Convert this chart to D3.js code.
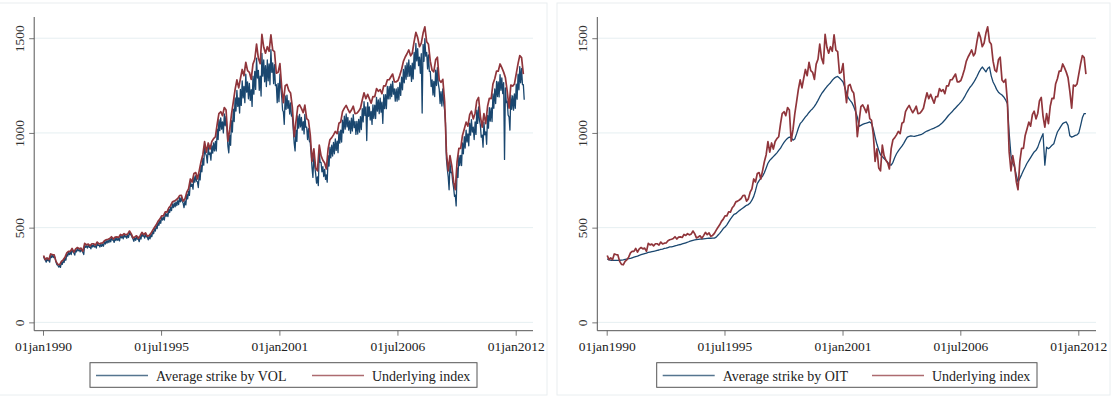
<!DOCTYPE html>
<html>
<head>
<meta charset="utf-8">
<script src="https://cdn.jsdelivr.net/npm/d3@7"></script>
<style>
  body { margin: 0; background: #fff; }
  svg { display: block; font-family: "Liberation Serif", "Times New Roman", serif; }
</style>
</head>
<body>
<svg id="chart" width="1114" height="397"></svg>
<script>
// monthly samples, Jan 1990 .. May 2012
const firstMonth = new Date(1990, 0, 10);

const indexValues = [
  353, 331, 340, 331, 361, 358, 356, 322, 306, 304, 322, 330,
  344, 367, 375, 375, 390, 371, 388, 395, 388, 392, 375, 417,
  409, 413, 404, 415, 415, 408, 424, 414, 418, 419, 431, 436,
  439, 443, 452, 440, 450, 451, 448, 464, 459, 468, 462, 466,
  482, 467, 446, 451, 457, 444, 458, 475, 463, 472, 454, 459,
  470, 487, 501, 515, 533, 545, 562, 562, 584, 582, 605, 616,
  636, 640, 646, 654, 669, 671, 640, 652, 687, 705, 757, 741,
  786, 791, 757, 801, 848, 885, 954, 899, 947, 915, 955, 970,
  980, 1049, 1102, 1112, 1091, 1134, 1121, 957, 1017, 1099, 1164, 1229,
  1280, 1238, 1286, 1335, 1302, 1373, 1329, 1320, 1283, 1363, 1389, 1469,
  1394, 1366, 1520, 1452, 1421, 1455, 1431, 1518, 1437, 1429, 1315, 1320,
  1366, 1240, 1160, 1249, 1256, 1224, 1211, 1134, 980, 1060, 1139, 1148,
  1130, 1107, 1147, 1076, 1067, 990, 850, 916, 815, 800, 936, 880,
  856, 841, 810, 917, 964, 975, 990, 1008, 996, 1051, 1058, 1112,
  1131, 1145, 1126, 1107, 1121, 1141, 1102, 1104, 1115, 1130, 1174, 1212,
  1181, 1204, 1181, 1157, 1192, 1191, 1234, 1220, 1229, 1207, 1249, 1248,
  1280, 1281, 1295, 1311, 1270, 1270, 1277, 1304, 1336, 1378, 1401, 1418,
  1438, 1407, 1421, 1482, 1531, 1503, 1455, 1474, 1527, 1560, 1481, 1468,
  1379, 1331, 1323, 1386, 1400, 1280, 1267, 1283, 1166, 900, 800, 880,
  826, 740, 700, 850, 919, 919, 987, 1021, 1057, 1036, 1096, 1115,
  1074, 1104, 1169, 1187, 1089, 1031, 1102, 1049, 1141, 1183, 1181, 1258,
  1286, 1327, 1326, 1364, 1345, 1321, 1292, 1219, 1131, 1253, 1247, 1258,
  1312, 1366, 1408, 1398, 1310
];

// VOL strike is very noisy: monthly high and low of the band
const volHigh = [
  348, 328, 336, 328, 356, 354, 352, 318, 302, 300, 318, 326,
  340, 362, 370, 370, 385, 366, 383, 390, 383, 387, 370, 410,
  404, 408, 399, 410, 410, 403, 419, 409, 413, 414, 426, 431,
  434, 438, 447, 435, 445, 446, 443, 459, 454, 463, 457, 461,
  476, 462, 441, 446, 452, 439, 453, 469, 458, 466, 449, 454,
  464, 481, 495, 509, 527, 538, 555, 555, 576, 574, 597, 607,
  626, 630, 636, 643, 658, 660, 630, 641, 675, 693, 743, 728,
  770, 775, 742, 784, 830, 866, 932, 880, 926, 895, 933, 948,
  955, 1020, 1070, 1080, 1058, 1100, 1087, 930, 988, 1065, 1125, 1185,
  1225, 1185, 1230, 1275, 1245, 1310, 1270, 1262, 1228, 1300, 1325, 1395,
  1330, 1300, 1420, 1385, 1355, 1385, 1365, 1440, 1370, 1360, 1255, 1262,
  1310, 1190, 1112, 1195, 1200, 1170, 1158, 1085, 945, 1015, 1090, 1098,
  1082, 1060, 1098, 1030, 1022, 948, 815, 878, 782, 768, 898, 845,
  822, 808, 778, 880, 925, 935, 950, 968, 956, 1008, 1015, 1067,
  1088, 1100, 1082, 1064, 1078, 1097, 1060, 1061, 1072, 1086, 1128, 1165,
  1138, 1160, 1138, 1114, 1148, 1147, 1188, 1175, 1183, 1162, 1202, 1202,
  1245, 1245, 1258, 1272, 1232, 1232, 1240, 1265, 1295, 1335, 1355, 1370,
  1385, 1355, 1368, 1425, 1472, 1445, 1400, 1418, 1468, 1498, 1425, 1412,
  1325, 1280, 1272, 1332, 1345, 1230, 1218, 1233, 1120, 865, 768, 845,
  792, 710, 672, 815, 882, 882, 948, 980, 1015, 995, 1052, 1070,
  1030, 1058, 1120, 1138, 1043, 988, 1056, 1005, 1093, 1134, 1132, 1206,
  1232, 1272, 1270, 1308, 1290, 1266, 1238, 1168, 1084, 1200, 1195, 1206,
  1258, 1310, 1350, 1340, 1255
];

const volLow = [
  335, 318, 326, 318, 342, 342, 340, 305, 292, 290, 306, 316,
  328, 350, 358, 358, 372, 355, 372, 378, 372, 376, 358, 396,
  392, 396, 388, 398, 398, 392, 406, 398, 401, 402, 413, 418,
  421, 425, 434, 422, 432, 433, 430, 446, 441, 450, 444, 448,
  462, 448, 428, 433, 439, 426, 440, 455, 445, 452, 436, 441,
  452, 468, 482, 495, 512, 523, 540, 540, 560, 558, 580, 590,
  606, 610, 616, 622, 636, 638, 606, 620, 652, 670, 718, 703,
  740, 745, 712, 752, 795, 830, 893, 842, 886, 856, 893, 905,
  905, 965, 1012, 1020, 1000, 1038, 1025, 895, 935, 1005, 1060, 1115,
  1140, 1105, 1145, 1185, 1160, 1215, 1180, 1172, 1140, 1205, 1230, 1290,
  1225, 1195, 1300, 1270, 1245, 1275, 1255, 1320, 1260, 1250, 1160, 1165,
  1240, 1120, 1045, 1125, 1130, 1100, 1090, 1020, 905, 955, 1025, 1032,
  1015, 995, 1030, 965, 958, 888, 765, 825, 735, 722, 845, 795,
  770, 755, 740, 825, 868, 878, 890, 908, 896, 946, 952, 1000,
  1020, 1032, 1015, 998, 1010, 1028, 992, 994, 1004, 1018, 1058, 1092,
  960, 1088, 1068, 1045, 1077, 1076, 1115, 1102, 1110, 1050, 1128, 1128,
  1180, 1180, 1192, 1205, 1168, 1168, 1175, 1198, 1228, 1265, 1283, 1298,
  1300, 1272, 1285, 1338, 1380, 1355, 1315, 1105, 1378, 1405, 1338, 1325,
  1245, 1200, 1192, 1250, 1262, 1155, 1142, 1156, 1050, 810, 700, 790,
  742, 665, 615, 765, 828, 828, 890, 920, 952, 932, 988, 1005,
  965, 992, 1050, 1066, 978, 925, 990, 940, 1025, 1062, 1060, 1130,
  1155, 1192, 1190, 1225, 1208, 860, 1160, 1095, 1015, 1125, 1120, 1130,
  1178, 1228, 1265, 1255, 1175
];

const oitValues = [
  335, 330, 328, 327, 327, 327, 327, 328, 329, 330, 332, 334,
  336, 338, 341, 344, 347, 350, 354, 357, 360, 363, 366, 369,
  371, 373, 375, 377, 380, 382, 385, 387, 390, 392, 395, 398,
  398, 401, 404, 406, 409, 411, 414, 417, 420, 423, 427, 430,
  433, 435, 437, 438, 439, 440, 441, 442, 443, 444, 444, 445,
  445, 450, 460, 470, 482, 495, 503, 515, 530, 545, 558, 570,
  574, 582, 590, 597, 604, 611, 618, 622, 630, 645, 665, 695,
  732, 748, 760, 772, 790, 815, 840, 855, 865, 875, 885, 895,
  908, 920, 935, 950, 962, 972, 978, 975, 962, 968, 995, 1025,
  1049, 1060, 1072, 1085, 1095, 1108, 1119, 1128, 1140, 1155, 1172, 1190,
  1207, 1220, 1232, 1245, 1255, 1265, 1278, 1288, 1295, 1298, 1290, 1280,
  1269, 1240, 1210, 1185, 1172, 1160, 1140, 1115, 1085, 1035, 1040, 1045,
  1049, 1052, 1055, 1058, 1050, 1020, 978, 940, 910, 885, 875, 865,
  855, 845, 832, 830, 845, 870, 890, 905, 918, 930, 945, 962,
  978, 982, 985, 983, 982, 985, 987, 990, 993, 998, 1005, 1010,
  1014, 1018, 1022, 1025, 1030, 1035, 1040, 1048, 1058, 1068, 1080, 1092,
  1102, 1112, 1122, 1132, 1142, 1152, 1163, 1175, 1190, 1208, 1225, 1240,
  1251, 1265, 1280, 1298, 1318, 1335, 1348, 1335, 1322, 1340, 1348, 1300,
  1269, 1250, 1230, 1215, 1207, 1200, 1190, 1175, 1154, 1000, 880, 840,
  820, 775, 741, 760, 780, 802, 820, 840, 855, 870, 885, 900,
  908, 925, 950, 975, 996, 830, 925, 917, 925, 935, 943, 975,
  1005, 1020, 1035, 1049, 1055, 1058, 1040, 985, 978, 982, 987, 990,
  1000, 1040, 1080, 1102, 1102
];

const tickDates = ["1990-01-01", "1995-07-01", "2001-01-01", "2006-07-01", "2012-01-01"];
const yTicks = [0, 500, 1000, 1500];
const strikeLabels = ["Average strike by VOL", "Average strike by OIT"];
const indexLabel = "Underlying index";

const BLUE = "#1a476f";
const RED = "#90353b";

const svg = d3.select("#chart");
const parseDay = d3.timeParse("%Y-%m-%d");
const fmtDay = d3.timeFormat("%d%b%Y");
const monthDate = i => d3.timeMonth.offset(firstMonth, i);

const indexSeries = indexValues.map((v, i) => ({ date: monthDate(i), value: v }));
const oitSeries = oitValues.map((v, i) => ({ date: monthDate(i), value: v }));
// zigzag high -> low inside each month, gives the dense band of the daily series
const volSeries = [];
volHigh.forEach((h, i) => {
    volSeries.push({ date: monthDate(i), value: h });
    volSeries.push({ date: d3.timeDay.offset(monthDate(i), 15), value: volLow[i] });
});

function drawPanel(cfg) {
    const g = svg.append("g");

    g.append("rect")
        .attr("x", cfg.frame[0]).attr("y", cfg.frame[1])
        .attr("width", cfg.frame[2] - cfg.frame[0]).attr("height", cfg.frame[3] - cfg.frame[1])
        .attr("fill", "none").attr("stroke", "#e9eef0");

    const x = d3.scaleTime()
        .domain([new Date(1990, 0, 1), new Date(2012, 0, 1)])
        .range([cfg.x0, cfg.x1]);
    const y = d3.scaleLinear().domain([-44, 1612]).range([330.7, 17]);

    g.selectAll(".grid").data(yTicks).join("line")
        .attr("class", "grid")
        .attr("x1", cfg.left).attr("x2", cfg.right)
        .attr("y1", d => y(d)).attr("y2", d => y(d))
        .attr("stroke", "#e6eff1").attr("stroke-width", 1);

    const line = d3.line().x(d => x(d.date)).y(d => y(d.value));

    g.append("path").datum(cfg.strike)
        .attr("d", line).attr("fill", "none")
        .attr("stroke", BLUE).attr("stroke-width", cfg.strikeWidth)
        .attr("stroke-linejoin", "round");
    g.append("path").datum(indexSeries)
        .attr("d", line).attr("fill", "none")
        .attr("stroke", RED).attr("stroke-width", 1.7)
        .attr("stroke-linejoin", "round");

    // y axis
    const yAxis = g.append("g")
        .attr("transform", `translate(${cfg.left},0)`)
        .call(d3.axisLeft(y).tickValues(yTicks).tickFormat(d3.format("d")).tickSize(5).tickSizeOuter(0));
    yAxis.select(".domain").remove();
    yAxis.selectAll("line").attr("stroke", "#777");
    yAxis.selectAll("text")
        .attr("x", null).attr("dy", null)
        .attr("transform", "translate(-10,0) rotate(-90)")
        .attr("text-anchor", "middle")
        .attr("fill", "#333")
        .style("font-family", "Liberation Serif")
        .style("font-size", "13.5px");
    g.append("line")
        .attr("x1", cfg.left).attr("x2", cfg.left)
        .attr("y1", 17).attr("y2", 330.7)
        .attr("stroke", "#555");

    // x axis
    const xAxis = g.append("g")
        .attr("transform", "translate(0,330.7)")
        .call(d3.axisBottom(x)
            .tickValues(tickDates.map(parseDay))
            .tickSize(5)
            .tickPadding(6)
            .tickFormat(d => fmtDay(d).toLowerCase()));
    xAxis.select(".domain").remove();
    xAxis.selectAll("line").attr("stroke", "#777");
    xAxis.selectAll("text")
        .attr("fill", "#222")
        .style("font-family", "Liberation Serif")
        .style("font-size", "13.5px");
    g.append("line")
        .attr("x1", cfg.left).attr("x2", cfg.right)
        .attr("y1", 330.7).attr("y2", 330.7)
        .attr("stroke", "#555");

    // legend
    const lg = cfg.legend;
    g.append("rect")
        .attr("x", lg.x).attr("y", 362.7)
        .attr("width", lg.w).attr("height", 24.6)
        .attr("fill", "#fff").attr("stroke", "#555");
    const items = [
        { label: cfg.strikeLabel, color: "#55758f", x: lg.x + 6 },
        { label: indexLabel, color: "#ad6b70", x: lg.x2 }
    ];
    items.forEach(it => {
        g.append("line")
            .attr("x1", it.x).attr("x2", it.x + 52)
            .attr("y1", 375.5).attr("y2", 375.5)
            .attr("stroke", it.color).attr("stroke-width", 1.3);
        g.append("text")
            .attr("x", it.x + 60).attr("y", 381)
            .attr("fill", "#222")
            .style("font-size", "14px")
            .text(it.label);
    });
}

drawPanel({
    frame: [-1, 3, 547, 395],
    left: 34.2, right: 533, x0: 43, x1: 515.7,
    strike: volSeries, strikeWidth: 1.3, strikeLabel: strikeLabels[0],
    legend: { x: 90, w: 387, x2: 312 }
});

drawPanel({
    frame: [557, 3, 1110, 395],
    left: 597.3, right: 1096, x0: 606.7, x1: 1078.3,
    strike: oitSeries, strikeWidth: 1.3, strikeLabel: strikeLabels[1],
    legend: { x: 656.7, w: 380.3, x2: 872 }
});
</script>
</body>
</html>
